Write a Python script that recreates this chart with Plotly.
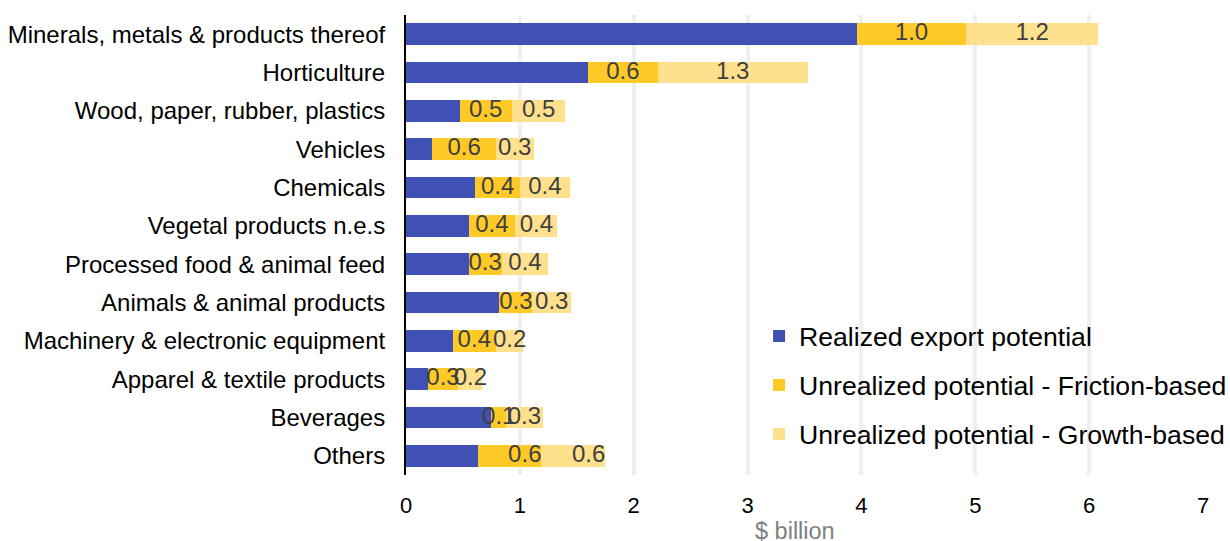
import plotly.graph_objects as go

categories = [
    "Minerals, metals & products thereof",
    "Horticulture",
    "Wood, paper, rubber, plastics",
    "Vehicles",
    "Chemicals",
    "Vegetal products n.e.s",
    "Processed food & animal feed",
    "Animals & animal products",
    "Machinery & electronic equipment",
    "Apparel & textile products",
    "Beverages",
    "Others",
]
realized = [3.96, 1.60, 0.47, 0.23, 0.61, 0.55, 0.55, 0.82, 0.41, 0.19, 0.75, 0.63]
friction = [0.96, 0.61, 0.46, 0.56, 0.39, 0.41, 0.29, 0.29, 0.38, 0.27, 0.13, 0.56]
growth = [1.16, 1.32, 0.47, 0.33, 0.44, 0.37, 0.41, 0.34, 0.24, 0.21, 0.32, 0.56]
x_ticks = [0, 1, 2, 3, 4, 5, 6, 7]
# label anchoring: Excel placed the "Others" labels at the inside end of the segment
end_anchored = ["Others"]

FONT = "Liberation Sans, Arial, sans-serif"
LABEL_COLOR = "#404040"

fig = go.Figure()
fig.add_trace(go.Bar(
    y=categories, x=realized, orientation="h", name="Realized export potential",
    marker=dict(color="#3f51b5", line=dict(width=0)), legendgroup="a",
    hoverinfo="skip",
))
fig.add_trace(go.Bar(
    y=categories, x=friction, orientation="h", name="Unrealized potential - Friction-based",
    marker=dict(color="#ffca28", line=dict(width=0)), legendgroup="b",
    hoverinfo="skip",
))
fig.add_trace(go.Bar(
    y=categories, x=growth, orientation="h", name="Unrealized potential - Growth-based",
    marker=dict(color="#ffe08c", line=dict(width=0)), legendgroup="c",
    hoverinfo="skip",
))

# data labels drawn on top of all bars (so overlapping labels stay visible)
for starts, vals in (
    (realized, friction),
    ([r + f for r, f in zip(realized, friction)], growth),
):
    xs, pos = [], []
    for cat, s, v in zip(categories, starts, vals):
        if cat in end_anchored:
            xs.append(s + v)
            pos.append("middle left")
        else:
            xs.append(s + v / 2)
            pos.append("middle center")
    fig.add_trace(go.Scatter(
        y=categories, x=xs, mode="text", text=[f"{v:.1f}" for v in vals],
        textposition=pos, textfont=dict(color=LABEL_COLOR, size=24, family=FONT),
        showlegend=False, hoverinfo="skip", cliponaxis=False,
    ))

fig.update_layout(
    barmode="stack",
    bargap=0.43,
    width=1230, height=541,
    margin=dict(l=406, r=27, t=15, b=66, pad=0, autoexpand=False),
    plot_bgcolor="white", paper_bgcolor="white",
    font=dict(family=FONT, size=24, color="black"),
    legend=dict(
        x=0.443, y=0.354, xanchor="left", yanchor="top",
        font=dict(size=26.6, color="black", family=FONT),
        traceorder="grouped", tracegroupgap=11.5,
        bgcolor="rgba(0,0,0,0)",
    ),
    xaxis=dict(
        range=[0, 7], tickvals=x_ticks, ticktext=[str(v) for v in x_ticks],
        showgrid=True, gridcolor="#efefef", gridwidth=4,
        zeroline=False, showline=False, ticks="",
        tickfont=dict(size=22, color="black"),
        ticklabelstandoff=15,
    ),
    yaxis=dict(
        categoryorder="array", categoryarray=categories,
        range=[len(categories) - 0.5, -0.5],
        showline=True, linecolor="black", linewidth=2,
        showgrid=False, zeroline=False, ticks="",
        tickfont=dict(size=24, color="black"),
        ticklabelstandoff=14,
    ),
    annotations=[dict(
        text="$ billion", xref="paper", yref="paper", x=0.488, y=0,
        xanchor="center", yanchor="middle", yshift=-56, showarrow=False,
        font=dict(size=23.5, color="#7f7f7f", family=FONT),
    )],
)

fig.write_html("out.html")
